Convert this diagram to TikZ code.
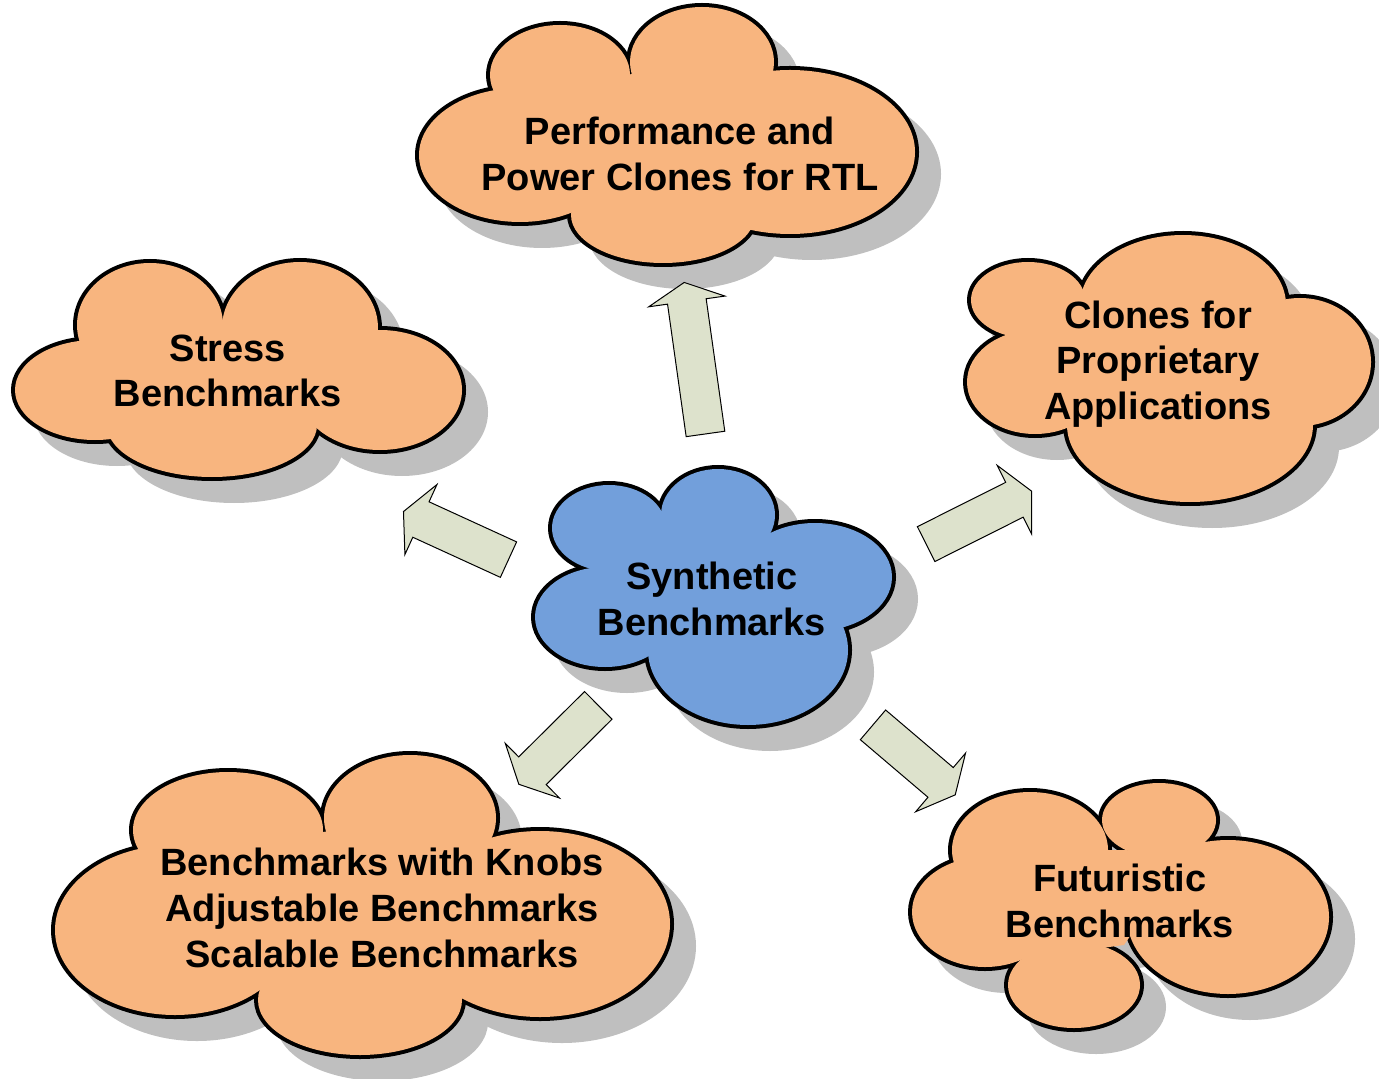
\documentclass[tikz,border=0pt]{standalone}
\usepackage{fontspec}
\setmainfont{Liberation Sans}
\usetikzlibrary{shapes.arrows}

\definecolor{cloudorange}{RGB}{248,181,127}
\definecolor{cloudblue}{RGB}{114,159,219}
\definecolor{arrowfill}{RGB}{221,226,204}
\definecolor{shadowgray}{RGB}{191,191,191}

% #1 fill, #2 puffs cx/cy/rx/ry, #3 inner polygon through the dips
\newcommand{\puffcloud}[3]{%
  \begin{scope}[shift={(22,22)}]
    \foreach \cx/\cy/\rx/\ry in {#2}
      \filldraw[shadowgray, line width=4pt] (\cx,\cy) ellipse [x radius=\rx, y radius=\ry];
    \fill[shadowgray] #3 -- cycle;
  \end{scope}
  \foreach \cx/\cy/\rx/\ry in {#2}
    \draw[line width=4pt] (\cx,\cy) ellipse [x radius=\rx, y radius=\ry];
  \foreach \cx/\cy/\rx/\ry in {#2}
    \fill[#1] (\cx,\cy) ellipse [x radius=\rx, y radius=\ry];
  \fill[#1] #3 -- cycle;
}

\begin{document}
\begin{tikzpicture}[x=0.5pt, y=-0.5pt,
  cloudtext/.style={font=\bfseries\fontsize{19}{22.8}\selectfont, align=center, inner sep=0pt},
  blockarrow/.style={single arrow, draw, line width=0.5pt, fill=arrowfill, inner xsep=0pt, inner ysep=9.5pt,
    minimum width=38pt, single arrow head extend=9.5pt, single arrow tip angle=127}]
  \useasboundingbox (0,0) rectangle (1379,1079);

  % clouds
  \puffcloud{cloudorange}{520/155/101/67, 560/75/70/50, 702/62/72/55, 790/152/125/82, 663/215/92/48}
    {(525,99) -- (636,73) -- (752,82) -- (738,218) -- (591,211)}
  \puffcloud{cloudorange}{95/390/80/50, 150/325/73/62, 300/328/78/66, 380/390/82/60, 212/425/105/52}
    {(108,344) -- (225,319) -- (353,337) -- (302,429) -- (129,428)}
  \puffcloud{cloudorange}{1035/382/68/52, 1028/300/57/38, 1183/305/103/70, 1300/362/71/64, 1190/425/123/77}
    {(1026,334) -- (1097,292) -- (1267,308) -- (1290,417) -- (1083,431)}
  \puffcloud{cloudblue}{605/617/70/50, 609/528/57/43, 718/515/57/46, 815/577/77/54, 748/650/100/75}
    {(591,572) -- (670,517) -- (759,538) -- (823,625) -- (657,650)}
  \puffcloud{cloudorange}{175/930/120/85, 228/830/95/58, 410/818/86/63, 540/924/130/93, 360/1000/102/55}
    {(170,858) -- (329,831) -- (472,842) -- (445,999) -- (276,998)}
  \puffcloud{cloudorange}{985/912/73/55, 1030/850/78/58, 1159/820/57/37, 1228/917/101/77, 1074/985/66/43}
    {(977,867) -- (1108,850) -- (1188,851) -- (1124,945) -- (1027,958)}

  % labels
  \node[cloudtext] (perf) at (680,154) {Performance and\\Power Clones for RTL};
  \node[cloudtext] (stress) at (228,371) {Stress\\Benchmarks};
  \node[cloudtext] (clones) at (1158,364) {Clones for\\Proprietary\\Applications};
  \node[cloudtext] (synth) at (712,599) {Synthetic\\Benchmarks};
  \node[cloudtext] (knobs) at (382,908) {Benchmarks with Knobs\\Adjustable Benchmarks\\Scalable Benchmarks};
  \node[cloudtext] (future) at (1120,901) {Futuristic\\Benchmarks};

  % arrows out of the centre
  \foreach \nm/\x/\y/\a/\l in {toperf/695.5/363/98/153, toclones/974.5/519.8/26.65/118,
      tostress/460.4/537.6/155.4/115.5, toknobs/562/741.4/224.8/112, tofuture/910.4/756.7/-40.4/108}
    \node[blockarrow, rotate=\a, minimum height=\l*0.5pt] (\nm) at (\x,\y) {};
\end{tikzpicture}
\end{document}
